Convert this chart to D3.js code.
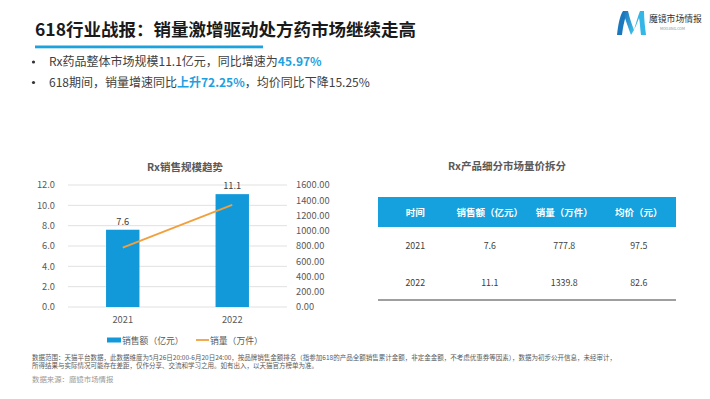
<!DOCTYPE html>
<html>
<head>
<meta charset="utf-8">
<script src="https://cdn.jsdelivr.net/npm/d3@7"></script>
<style>
  body { margin: 0; background: #fff; }
  svg { display: block; font-family: "Noto Sans CJK SC", "Noto Sans", sans-serif; }
</style>
</head>
<body>
<svg width="710" height="399"></svg>
<script>
// **** data ****
var years = ['2021', '2022'];
var sales = [7.6, 11.1];          // 销售额（亿元）
var volume = [777.8, 1339.8];     // 销量（万件）
var price = [97.5, 82.6];         // 均价（元）
var leftTicks = [0, 2, 4, 6, 8, 10, 12];
var rightTicks = [0, 200, 400, 600, 800, 1000, 1200, 1400, 1600];
var tableHead = ['时间', '销售额（亿元）', '销量（万件）', '均价（元）'];

var blue = '#1199d9';
var orange = '#f2a03d';
var grey = '#595959';

var svg = d3.select('svg');

// **** header ****
svg.append('text')
    .attr('x', 35).attr('y', 36)
    .attr('font-size', 17.5).attr('font-weight', 'bold').attr('fill', '#1a1a1a')
    .text('618行业战报：销量激增驱动处方药市场继续走高');

svg.append('rect')
    .attr('x', 35).attr('y', 45.5).attr('width', 228).attr('height', 2.8)
    .attr('fill', '#1ca3dd');

var bullets = [
    [['Rx药品整体市场规模11.1亿元，同比增速为', false], ['45.97%', true]],
    [['618期间，销量增速同比', false], ['上升72.25%', true], ['，均价同比下降15.25%', false]]
];

bullets.forEach(function(parts, i) {
    var y = 66 + i * 20.5;
    svg.append('circle').attr('cx', 33.5).attr('cy', y - 4).attr('r', 1.6).attr('fill', '#333');
    var t = svg.append('text').attr('x', 49).attr('y', y).attr('font-size', 12);
    parts.forEach(function(p) {
        t.append('tspan')
            .attr('fill', p[1] ? '#1d9fe0' : '#404040')
            .attr('font-weight', p[1] ? 'bold' : 'normal')
            .text(p[0]);
    });
});

// **** logo ****
var logo = svg.append('g').attr('transform', 'translate(617,11)');
var grad = svg.append('defs').append('linearGradient')
    .attr('id', 'lg').attr('x1', 0).attr('y1', 0).attr('x2', 1).attr('y2', 1);
grad.append('stop').attr('offset', 0).attr('stop-color', '#1d6fb8');
grad.append('stop').attr('offset', 1).attr('stop-color', '#3fc6ec');
logo.append('path').attr('d', 'M0,24 C1,14 3,4 6,0 L11,0 C8,6 6,15 5,24 Z').attr('fill', '#1c78bd');
logo.append('path').attr('d', 'M6,0 L11,0 C13,8 15,14 17,19 L14,24 C11,16 8,8 6,0 Z').attr('fill', 'url(#lg)');
logo.append('path').attr('d', 'M17,19 C19,12 21,5 23,0 L27,0 C27,8 28,16 29,24 L24,24 C23,17 23,11 22,7 C20,12 18,18 14,24 Z').attr('fill', '#34b6e6');
svg.append('text').attr('x', 649).attr('y', 22).attr('font-size', 8.8).attr('fill', '#333').text('魔镜市场情报');
svg.append('text').attr('x', 660).attr('y', 30).attr('font-size', 3.6).attr('fill', '#888').text('MOOJING.COM');

// **** bar + line chart ****
var plotLeft = 68, plotRight = 287, plotTop = 185, plotBottom = 307;

var xScale = d3.scaleBand().domain(years).range([plotLeft, plotRight]);
var yLeft = d3.scaleLinear().domain([0, 12]).range([plotBottom, plotTop]);
var yRight = d3.scaleLinear().domain([0, 1600]).range([plotBottom, plotTop]);

svg.append('text')
    .attr('x', 185).attr('y', 171)
    .attr('text-anchor', 'middle').attr('font-size', 10.5).attr('font-weight', 'bold').attr('fill', grey)
    .text('Rx销售规模趋势');

// gridlines
svg.append('g').selectAll('line')
    .data(leftTicks)
    .enter()
    .append('line')
    .attr('x1', plotLeft).attr('x2', plotRight)
    .attr('y1', d => yLeft(d)).attr('y2', d => yLeft(d))
    .attr('stroke', '#d9d9d9').attr('stroke-width', 0.8);

var leftAxis = svg.append('g')
    .attr('transform', 'translate(' + (plotLeft - 10) + ',0)')
    .call(d3.axisLeft(yLeft).tickValues(leftTicks).tickFormat(d3.format('.1f')).tickSize(0));
leftAxis.select('.domain').remove();

var rightAxis = svg.append('g')
    .attr('transform', 'translate(' + (plotRight + 6) + ',0)')
    .call(d3.axisRight(yRight).tickValues(rightTicks).tickFormat(d3.format('.2f')).tickSize(0));
rightAxis.select('.domain').remove();

var bottomAxis = svg.append('g')
    .attr('transform', 'translate(0,' + (plotBottom + 6) + ')')
    .call(d3.axisBottom(xScale).tickSize(0));
bottomAxis.select('.domain').remove();

svg.selectAll('.tick text')
    .attr('font-family', '"Noto Sans CJK SC", sans-serif')
    .attr('font-size', 9.3).attr('fill', grey);

var barW = xScale.bandwidth() * 0.305;

svg.append('g').selectAll('rect')
    .data(sales)
    .enter()
    .append('rect')
    .attr('x', (d, i) => xScale(years[i]) + xScale.bandwidth() / 2 - barW / 2)
    .attr('y', d => yLeft(d))
    .attr('width', barW)
    .attr('height', d => plotBottom - yLeft(d))
    .attr('fill', blue);

svg.append('g').selectAll('text')
    .data(sales)
    .enter()
    .append('text')
    .attr('x', (d, i) => xScale(years[i]) + xScale.bandwidth() / 2)
    .attr('y', d => yLeft(d) - 5)
    .attr('text-anchor', 'middle').attr('font-size', 9.3).attr('fill', '#404040')
    .text(d => d3.format('.1f')(d));

var line = d3.line()
    .x((d, i) => xScale(years[i]) + xScale.bandwidth() / 2)
    .y(d => yRight(d));

svg.append('path')
    .datum(volume)
    .attr('d', line)
    .attr('fill', 'none').attr('stroke', orange).attr('stroke-width', 1.8);

// legend
var legend = svg.append('g').attr('font-size', 8.8).attr('fill', grey);
legend.append('rect').attr('x', 107).attr('y', 337.5).attr('width', 14).attr('height', 5).attr('fill', blue);
legend.append('text').attr('x', 122).attr('y', 343.5).text('销售额（亿元）');
legend.append('line').attr('x1', 196).attr('x2', 209).attr('y1', 340).attr('y2', 340)
    .attr('stroke', orange).attr('stroke-width', 1.8);
legend.append('text').attr('x', 210).attr('y', 343.5).text('销量（万件）');

// **** table ****
var tLeft = 378, tRight = 676;
var colScale = d3.scaleBand().domain(d3.range(4)).range([tLeft, tRight]);
var colX = i => colScale(i) + colScale.bandwidth() / 2;

svg.append('text')
    .attr('x', 507).attr('y', 170)
    .attr('text-anchor', 'middle').attr('font-size', 10.5).attr('font-weight', 'bold').attr('fill', grey)
    .text('Rx产品细分市场量价拆分');

svg.append('rect')
    .attr('x', tLeft).attr('y', 197).attr('width', tRight - tLeft).attr('height', 30)
    .attr('fill', '#15a1de');

svg.append('g').selectAll('text')
    .data(tableHead)
    .enter()
    .append('text')
    .attr('x', (d, i) => colX(i))
    .attr('y', 215.5)
    .attr('text-anchor', 'middle').attr('font-size', 9.5).attr('font-weight', 'bold').attr('fill', '#fff')
    .text(d => d);

var rows = years.map((y, i) => [y, d3.format('.1f')(sales[i]), d3.format('.1f')(volume[i]), d3.format('.1f')(price[i])]);
var rowY = d3.scalePoint().domain(years).range([248.5, 285.5]);

rows.forEach(function(r) {
    svg.append('g').selectAll('text')
        .data(r)
        .enter()
        .append('text')
        .attr('x', (d, i) => colX(i))
        .attr('y', rowY(r[0]))
        .attr('text-anchor', 'middle').attr('font-size', 8.8).attr('fill', '#404040')
        .text(d => d);
});

svg.append('line')
    .attr('x1', tLeft).attr('x2', tRight).attr('y1', 300).attr('y2', 300)
    .attr('stroke', '#404040').attr('stroke-width', 1.2);

// **** footnote ****
var notes = [
    '数据范围：天猫平台数据，此数据维度为5月26日20:00-6月20日24:00，按品牌销售金额排名（指参加618的产品全额销售累计金额，非定金金额，不考虑优惠券等因素），数据为初步公开信息，未经审计，',
    '所得结果与实际情况可能存在差距，仅作分享、交流和学习之用。如有出入，以天猫官方榜单为准。'
];
svg.append('g').selectAll('text')
    .data(notes)
    .enter()
    .append('text')
    .attr('x', 32)
    .attr('y', (d, i) => 359.5 + i * 8.6)
    .attr('font-size', 6.5).attr('fill', '#5a5a5a')
    .text(d => d);

svg.append('text')
    .attr('x', 32).attr('y', 382)
    .attr('font-size', 7.4).attr('fill', '#9a9a9a')
    .text('数据来源：魔镜市场情报');
</script>
</body>
</html>
